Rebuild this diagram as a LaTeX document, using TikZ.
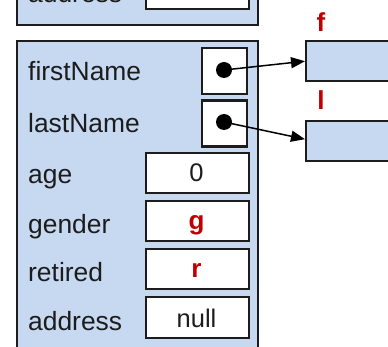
\documentclass[tikz,border=0pt]{standalone}
\usepackage{fontspec}
\setmainfont{Liberation Sans}
\usetikzlibrary{arrows.meta}
\definecolor{objfill}{HTML}{C6D9F1}
\definecolor{valred}{HTML}{C00000}
\definecolor{edgecol}{HTML}{1C1C1C}
\begin{document}
\begin{tikzpicture}[x=1pt,y=-1pt,
  objbox/.style={draw=edgecol, line width=2.4pt, fill=objfill, inner sep=0pt, anchor=north west},
  cellbox/.style={draw=edgecol, line width=2.4pt, fill=white, inner sep=0pt, anchor=north west},
  fieldname/.style={font=\fontsize{26.4}{26.4}\selectfont, text=edgecol, anchor=base west, inner sep=0pt},
  plainval/.style={font=\fontsize{25.5}{25.5}\selectfont, text=edgecol, anchor=base, inner sep=0pt},
  charval/.style={font=\bfseries\fontsize{26}{26}\selectfont, text=valred, anchor=base, inner sep=0pt},
  refdot/.style={circle, fill=black, inner sep=0pt, minimum size=16pt},
  ptr/.style={draw=black, line width=1.5pt, -{Triangle[length=14pt,width=11pt]}}]
\clip (0,0) rectangle (388,347);

% object above, mostly out of view
\node[objbox, minimum width=241pt, minimum height=44pt] (prevobj) at (16,-20) {};
\node[cellbox, minimum width=103pt, minimum height=28pt] (prevaddr) at (145,-20) {};
\node[fieldname] (prevaddrlbl) at (28,3) {address};

% person object
\node[objbox, minimum width=241pt, minimum height=330pt] (person) at (16,40) {};

\node[cellbox, minimum width=45pt, minimum height=46pt] (firstcell) at (201,47) {};
\node[cellbox, minimum width=45pt, minimum height=46pt] (lastcell) at (201,99.5) {};
\node[cellbox, minimum width=103pt, minimum height=40pt] (agecell) at (145,152) {};
\node[cellbox, minimum width=103pt, minimum height=40pt] (gendercell) at (145,200) {};
\node[cellbox, minimum width=103pt, minimum height=40pt] (retiredcell) at (145,248) {};
\node[cellbox, minimum width=103pt, minimum height=41pt] (addrcell) at (145,296) {};

\node[fieldname] (firstlbl) at (28,81) {firstName};
\node[fieldname] (lastlbl) at (28,133) {lastName};
\node[fieldname] (agelbl) at (28,184) {age};
\node[fieldname] (genderlbl) at (28,234) {gender};
\node[fieldname] (retiredlbl) at (28,282) {retired};
\node[fieldname] (addrlbl) at (28,330) {address};

\node[plainval] (ageval) at (196.5,182) {0};
\node[charval] (genderval) at (196.5,230) {g};
\node[charval] (retiredval) at (196.5,278) {r};
\node[plainval] (addrval) at (196.5,327) {null};

% referenced string objects
\node[objbox, minimum width=100pt, minimum height=40pt] (fobj) at (305,40) {};
\node[objbox, minimum width=100pt, minimum height=40pt] (lobj) at (305,120) {};
\node[charval] (flbl) at (321,32) {f};
\node[charval] (llbl) at (321,110) {l};

% references
\node[refdot] (firstdot) at (224,70) {};
\node[refdot] (lastdot) at (224,122) {};
\draw[ptr] (firstdot.center) -- (fobj.west);
\draw[ptr] (lastdot.center) -- ([yshift=2pt]lobj.west);
\end{tikzpicture}
\end{document}
